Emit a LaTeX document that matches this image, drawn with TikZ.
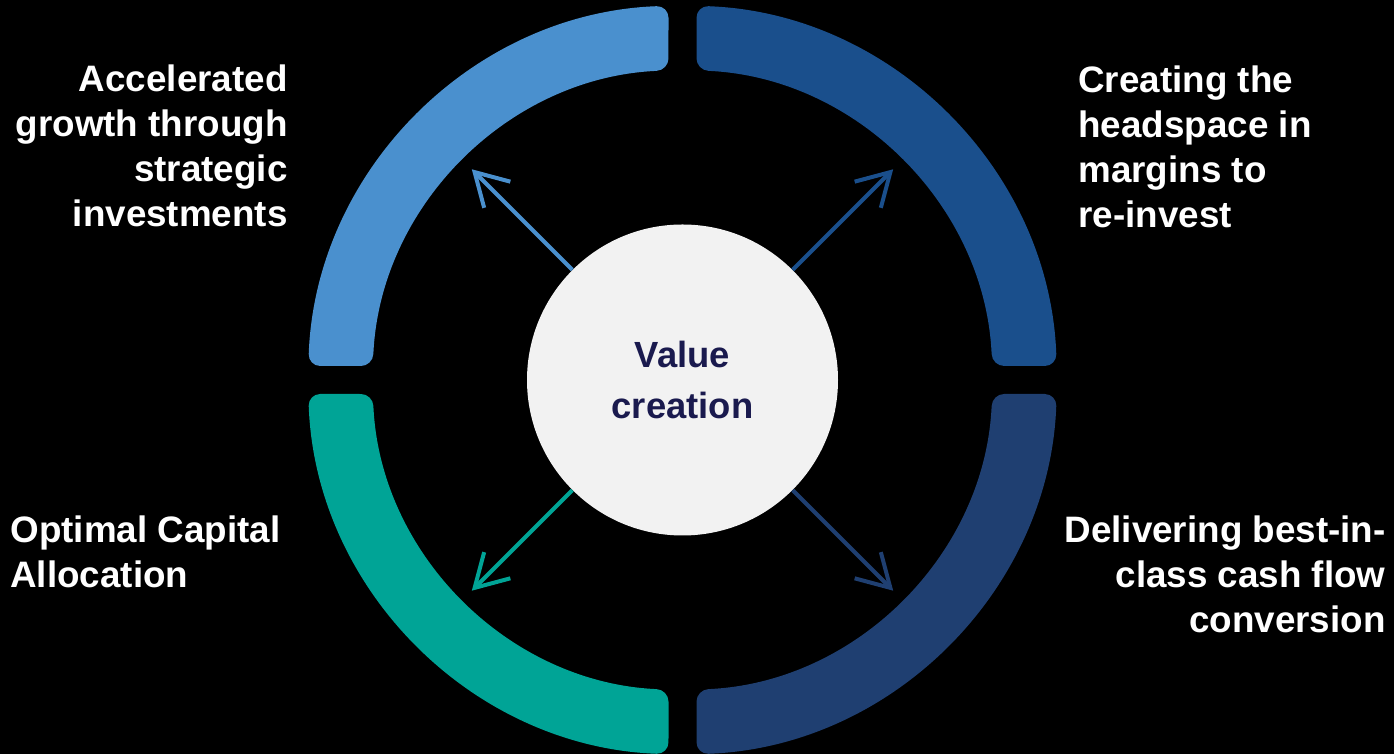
\documentclass[tikz,border=0pt]{standalone}
\usepackage{fontspec}
\setmainfont{Liberation Sans}
\usetikzlibrary{arrows.meta}
\definecolor{cTL}{HTML}{4A90CE}
\definecolor{cTR}{HTML}{1A4F8C}
\definecolor{cBR}{HTML}{1F3F71}
\definecolor{cBL}{HTML}{00A496}
\definecolor{cCirc}{HTML}{F2F2F2}
\definecolor{cNavy}{HTML}{1A1A4E}
\tikzset{
  seg/.style={rounded corners=6pt},
  lbl/.style={text=white, font=\fontsize{18.4pt}{22.5pt}\selectfont\bfseries, inner sep=0pt},
  arr/.style={line width=2pt, -{Straight Barb[length=16pt,width=18.5pt,line width=2pt]}},
}
\newcommand{\ringpath}{(14,340) -- (14,309.68) arc[start angle=87.411, end angle=2.589, radius=310] -- (374.24,14) arc[start angle=2.142, end angle=87.858, radius=374.5] -- cycle}
\begin{document}
\begin{tikzpicture}[x=0.5pt,y=0.5pt]
\fill[black] (0,0) rectangle (1394,754);
\useasboundingbox (0,0) rectangle (1394,754);
% ring segments
\fill[cTR, seg, shift={(682.5,374)}, rotate=0] \ringpath;
\fill[cTL, seg, shift={(682.5,374)}, rotate=90] \ringpath;
\fill[cBL, seg, shift={(682.5,374)}, rotate=180] \ringpath;
\fill[cBR, seg, shift={(682.5,374)}, rotate=270] \ringpath;
% arrow end points
\coordinate (tTL) at (471.8,584.7);
\coordinate (tTR) at (893.2,584.7);
\coordinate (tBL) at (471.8,163.3);
\coordinate (tBR) at (893.2,163.3);
% centre circle
\node[circle, fill=cCirc, minimum size=155.5pt, inner sep=0pt] (vc) at (682.5,374) {};
\draw[arr, cTL] (vc.135) -- (tTL);
\draw[arr, cTR] (vc.45) -- (tTR);
\draw[arr, cBL] (vc.225) -- (tBL);
\draw[arr, cBR] (vc.315) -- (tBR);
\node[align=center, text=cNavy, font=\fontsize{18.2pt}{25.5pt}\selectfont\bfseries, inner sep=0pt] (vt) at (vc.center) {Value\\creation};
% labels
\node[lbl, align=right, anchor=north east] (lTL) at (288,690) {Accelerated\\growth through\\strategic\\investments};
\node[lbl, align=left, anchor=north west] (lTR) at (1078,689) {Creating the\\headspace in\\margins to\\re-invest};
\node[lbl, align=left, anchor=north west] (lBL) at (10,239) {Optimal Capital\\Allocation};
\node[lbl, align=right, anchor=north east] (lBR) at (1386,239) {Delivering best-in-\\class cash flow\\conversion};
\end{tikzpicture}
\end{document}
